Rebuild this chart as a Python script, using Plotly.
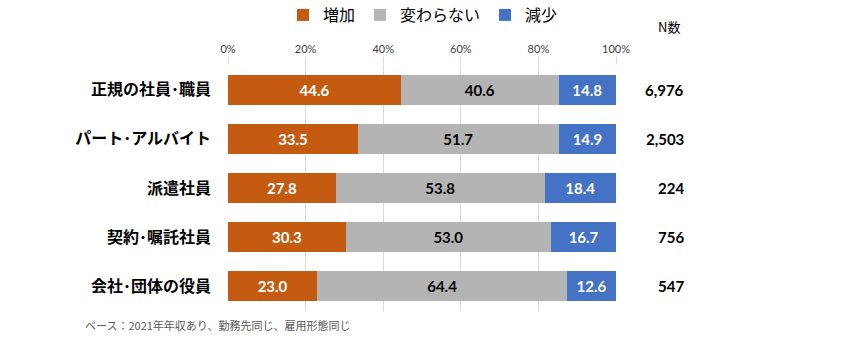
import plotly.graph_objects as go

categories = ["正規の社員･職員", "パート･アルバイト", "派遣社員", "契約･嘱託社員", "会社･団体の役員"]
increase = [44.6, 33.5, 27.8, 30.3, 23.0]
unchanged = [40.6, 51.7, 53.8, 53.0, 64.4]
decrease = [14.8, 14.9, 18.4, 16.7, 12.6]
n_counts = ["6,976", "2,503", "224", "756", "547"]
series_names = ["増加", "変わらない", "減少"]
tick_vals = [0, 20, 40, 60, 80, 100]
tick_text = ["0%", "20%", "40%", "60%", "80%", "100%"]
footnote = "ベース：2021年年収あり、勤務先同じ、雇用形態同じ"

colors = ["#C55A11", "#B4B4B4", "#4472C4"]
text_colors = ["#FFFFFF", "#000000", "#FFFFFF"]
num_font = "Lato, 'Noto Sans CJK JP', sans-serif"
cjk_font = "'Noto Sans CJK JP', sans-serif"

PLOT_TOP, PLOT_BOTTOM = 65, 311
PH = PLOT_BOTTOM - PLOT_TOP

def py(px):
    return (PLOT_BOTTOM - px) / PH

fig = go.Figure()
for name, vals, c, tc in zip(series_names, [increase, unchanged, decrease], colors, text_colors):
    fig.add_trace(go.Bar(
        y=categories, x=vals, name=name, orientation="h",
        marker=dict(color=c, line=dict(width=0)),
        text=[f"{v:.1f}" for v in vals], textposition="inside",
        insidetextanchor="middle", textangle=0,
        insidetextfont=dict(family=num_font, size=15, color=tc, weight="bold"),
    ))

for cat, n in zip(categories, n_counts):
    fig.add_annotation(x=1.1804, xref="paper", y=cat, yref="y", text=n,
                       showarrow=False, xanchor="right",
                       font=dict(family=num_font, size=15, color="#000000", weight="bold"))

fig.add_annotation(x=(669 - 228) / 388, xref="paper", y=py(27), yref="paper", text="N数",
                   showarrow=False, xanchor="center", yanchor="middle",
                   font=dict(family=cjk_font, size=13, color="#000000"))

fig.add_annotation(x=(83 - 228) / 388, xref="paper", y=py(325), yref="paper",
                   text=footnote, showarrow=False, xanchor="left", yanchor="middle",
                   font=dict(family=cjk_font, size=11, color="#595959"))

fig.update_layout(
    barmode="stack", bargap=0.39,
    width=846, height=340,
    margin=dict(l=228, r=230, t=PLOT_TOP, b=340 - PLOT_BOTTOM, autoexpand=False),
    plot_bgcolor="white", paper_bgcolor="white",
    legend=dict(orientation="h", x=(423 - 228) / 388, xref="paper", xanchor="center",
                y=py(15), yanchor="middle",
                font=dict(family=cjk_font, size=16, color="#000000"), itemwidth=30,
                traceorder="normal"),
    xaxis=dict(side="top", range=[0, 100], tickvals=tick_vals, ticktext=tick_text,
               showgrid=True, gridcolor="#D9D9D9", gridwidth=1, zeroline=False,
               ticks="outside", ticklen=7, tickcolor="#D9D9D9",
               tickfont=dict(family=num_font, size=11, color="#404040"),
               fixedrange=True),
    yaxis=dict(autorange="reversed", showgrid=False, zeroline=False, ticks="",
               ticklabelstandoff=16,
               tickfont=dict(family=cjk_font, size=16, color="#000000", weight="bold")),
    showlegend=True,
)

fig.write_html("out.html")
